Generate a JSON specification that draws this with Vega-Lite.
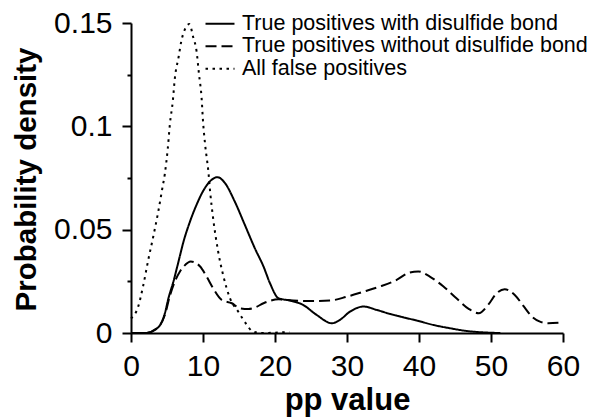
{
  "$schema": "https://vega.github.io/schema/vega-lite/v6.json",
  "width": 432,
  "height": 310,
  "autosize": {"type": "none"},
  "padding": {"left": 131, "top": 23, "right": 37, "bottom": 86},
  "background": "white",
  "config": {
    "view": {"stroke": null},
    "font": "Liberation Sans",
    "legend": {"rowPadding": -0.5},
    "axis": {
      "grid": false,
      "domainColor": "black",
      "domainWidth": 2,
      "tickColor": "black",
      "tickWidth": 2,
      "labelFont": "Liberation Sans",
      "labelFontSize": 30,
      "labelColor": "black",
      "titleFont": "Liberation Sans",
      "titleFontSize": 31,
      "titleFontWeight": "bold",
      "titleColor": "black"
    }
  },
  "datasets": {
    "curves": [
      {"series": "True positives with disulfide bond", "x": 0, "y": 0},
      {"series": "True positives with disulfide bond", "x": 2, "y": 0},
      {"series": "True positives with disulfide bond", "x": 3.3, "y": 0.0015},
      {"series": "True positives with disulfide bond", "x": 4.3, "y": 0.0055},
      {"series": "True positives with disulfide bond", "x": 4.7, "y": 0.0095},
      {"series": "True positives with disulfide bond", "x": 5.2, "y": 0.0168},
      {"series": "True positives with disulfide bond", "x": 5.9, "y": 0.025},
      {"series": "True positives with disulfide bond", "x": 6.6, "y": 0.0346},
      {"series": "True positives with disulfide bond", "x": 7.3, "y": 0.0443},
      {"series": "True positives with disulfide bond", "x": 8.2, "y": 0.054},
      {"series": "True positives with disulfide bond", "x": 9.1, "y": 0.062},
      {"series": "True positives with disulfide bond", "x": 10.0, "y": 0.0686},
      {"series": "True positives with disulfide bond", "x": 11.0, "y": 0.0735},
      {"series": "True positives with disulfide bond", "x": 12.0, "y": 0.0754},
      {"series": "True positives with disulfide bond", "x": 13.0, "y": 0.0728},
      {"series": "True positives with disulfide bond", "x": 14.4, "y": 0.0637},
      {"series": "True positives with disulfide bond", "x": 15.8, "y": 0.0524},
      {"series": "True positives with disulfide bond", "x": 17.2, "y": 0.041},
      {"series": "True positives with disulfide bond", "x": 18.4, "y": 0.0322},
      {"series": "True positives with disulfide bond", "x": 19.3, "y": 0.0241},
      {"series": "True positives with disulfide bond", "x": 20.5, "y": 0.0168},
      {"series": "True positives with disulfide bond", "x": 22.1, "y": 0.0157},
      {"series": "True positives with disulfide bond", "x": 23.9, "y": 0.0136},
      {"series": "True positives with disulfide bond", "x": 25.8, "y": 0.0087},
      {"series": "True positives with disulfide bond", "x": 27.9, "y": 0.0047},
      {"series": "True positives with disulfide bond", "x": 29.0, "y": 0.0063},
      {"series": "True positives with disulfide bond", "x": 30.4, "y": 0.0103},
      {"series": "True positives with disulfide bond", "x": 32.3, "y": 0.0128},
      {"series": "True positives with disulfide bond", "x": 34.1, "y": 0.0112},
      {"series": "True positives with disulfide bond", "x": 36.0, "y": 0.0092},
      {"series": "True positives with disulfide bond", "x": 37.8, "y": 0.0076},
      {"series": "True positives with disulfide bond", "x": 39.7, "y": 0.006},
      {"series": "True positives with disulfide bond", "x": 42.0, "y": 0.0039},
      {"series": "True positives with disulfide bond", "x": 44.3, "y": 0.0023},
      {"series": "True positives with disulfide bond", "x": 46.6, "y": 0.001},
      {"series": "True positives with disulfide bond", "x": 48.9, "y": 0.0003},
      {"series": "True positives with disulfide bond", "x": 51.3, "y": 0},

      {"series": "True positives without disulfide bond", "x": 0, "y": 0},
      {"series": "True positives without disulfide bond", "x": 2, "y": 0},
      {"series": "True positives without disulfide bond", "x": 3.5, "y": 0.002},
      {"series": "True positives without disulfide bond", "x": 4.7, "y": 0.0087},
      {"series": "True positives without disulfide bond", "x": 5.4, "y": 0.018},
      {"series": "True positives without disulfide bond", "x": 6.1, "y": 0.025},
      {"series": "True positives without disulfide bond", "x": 6.8, "y": 0.0298},
      {"series": "True positives without disulfide bond", "x": 7.4, "y": 0.0325},
      {"series": "True positives without disulfide bond", "x": 8.3, "y": 0.0346},
      {"series": "True positives without disulfide bond", "x": 9.6, "y": 0.0322},
      {"series": "True positives without disulfide bond", "x": 10.5, "y": 0.0273},
      {"series": "True positives without disulfide bond", "x": 11.4, "y": 0.0217},
      {"series": "True positives without disulfide bond", "x": 12.6, "y": 0.016},
      {"series": "True positives without disulfide bond", "x": 14.0, "y": 0.0144},
      {"series": "True positives without disulfide bond", "x": 15.1, "y": 0.012},
      {"series": "True positives without disulfide bond", "x": 16.3, "y": 0.0116},
      {"series": "True positives without disulfide bond", "x": 17.2, "y": 0.0123},
      {"series": "True positives without disulfide bond", "x": 18.4, "y": 0.0144},
      {"series": "True positives without disulfide bond", "x": 20.5, "y": 0.0163},
      {"series": "True positives without disulfide bond", "x": 22.5, "y": 0.0157},
      {"series": "True positives without disulfide bond", "x": 24.9, "y": 0.0155},
      {"series": "True positives without disulfide bond", "x": 27.6, "y": 0.0157},
      {"series": "True positives without disulfide bond", "x": 30.0, "y": 0.0176},
      {"series": "True positives without disulfide bond", "x": 32.3, "y": 0.02},
      {"series": "True positives without disulfide bond", "x": 34.6, "y": 0.0225},
      {"series": "True positives without disulfide bond", "x": 36.9, "y": 0.0257},
      {"series": "True positives without disulfide bond", "x": 38.5, "y": 0.029},
      {"series": "True positives without disulfide bond", "x": 39.9, "y": 0.0298},
      {"series": "True positives without disulfide bond", "x": 41.5, "y": 0.0273},
      {"series": "True positives without disulfide bond", "x": 43.4, "y": 0.0225},
      {"series": "True positives without disulfide bond", "x": 45.2, "y": 0.0168},
      {"series": "True positives without disulfide bond", "x": 46.9, "y": 0.0117},
      {"series": "True positives without disulfide bond", "x": 48.3, "y": 0.0096},
      {"series": "True positives without disulfide bond", "x": 49.6, "y": 0.0136},
      {"series": "True positives without disulfide bond", "x": 50.8, "y": 0.0193},
      {"series": "True positives without disulfide bond", "x": 51.9, "y": 0.0212},
      {"series": "True positives without disulfide bond", "x": 53.3, "y": 0.0184},
      {"series": "True positives without disulfide bond", "x": 54.5, "y": 0.0131},
      {"series": "True positives without disulfide bond", "x": 55.7, "y": 0.0079},
      {"series": "True positives without disulfide bond", "x": 56.8, "y": 0.0055},
      {"series": "True positives without disulfide bond", "x": 57.95, "y": 0.0047},
      {"series": "True positives without disulfide bond", "x": 59.6, "y": 0.005},

      {"series": "All false positives", "x": 0, "y": 0.007},
      {"series": "All false positives", "x": 1.0, "y": 0.0128},
      {"series": "All false positives", "x": 1.7, "y": 0.023},
      {"series": "All false positives", "x": 2.4, "y": 0.0354},
      {"series": "All false positives", "x": 3.1, "y": 0.0468},
      {"series": "All false positives", "x": 3.8, "y": 0.059},
      {"series": "All false positives", "x": 4.35, "y": 0.07},
      {"series": "All false positives", "x": 4.7, "y": 0.077},
      {"series": "All false positives", "x": 5.1, "y": 0.089},
      {"series": "All false positives", "x": 5.4, "y": 0.101},
      {"series": "All false positives", "x": 5.8, "y": 0.112},
      {"series": "All false positives", "x": 6.1, "y": 0.1236},
      {"series": "All false positives", "x": 6.6, "y": 0.1333},
      {"series": "All false positives", "x": 7.0, "y": 0.1414},
      {"series": "All false positives", "x": 7.5, "y": 0.147},
      {"series": "All false positives", "x": 8.1, "y": 0.1495},
      {"series": "All false positives", "x": 8.65, "y": 0.143},
      {"series": "All false positives", "x": 9.1, "y": 0.1365},
      {"series": "All false positives", "x": 9.45, "y": 0.125},
      {"series": "All false positives", "x": 9.8, "y": 0.114},
      {"series": "All false positives", "x": 10.0, "y": 0.1026},
      {"series": "All false positives", "x": 10.3, "y": 0.091},
      {"series": "All false positives", "x": 10.75, "y": 0.078},
      {"series": "All false positives", "x": 11.0, "y": 0.068},
      {"series": "All false positives", "x": 11.4, "y": 0.0557},
      {"series": "All false positives", "x": 12.1, "y": 0.0395},
      {"series": "All false positives", "x": 12.8, "y": 0.028},
      {"series": "All false positives", "x": 13.75, "y": 0.0168},
      {"series": "All false positives", "x": 14.9, "y": 0.0103},
      {"series": "All false positives", "x": 16.1, "y": 0.0039},
      {"series": "All false positives", "x": 16.8, "y": 0.001},
      {"series": "All false positives", "x": 18.0, "y": 0},
      {"series": "All false positives", "x": 22.0, "y": 0.0005}
    ]
  },
  "data": {"name": "curves"},
  "mark": {"type": "line", "interpolate": "monotone", "strokeWidth": 2, "color": "black"},
  "encoding": {
    "x": {
      "field": "x",
      "type": "quantitative",
      "scale": {"domain": [0, 60], "nice": false, "zero": false},
      "axis": {
        "title": "pp value",
        "values": [0, 10, 20, 30, 40, 50, 60],
        "format": "d",
        "tickSize": 9,
        "labelPadding": 9,
        "labelFlush": false,
        "titleY": 76,
        "titleBaseline": "alphabetic"
      }
    },
    "y": {
      "field": "y",
      "type": "quantitative",
      "scale": {"domain": [0, 0.15], "nice": false},
      "axis": {
        "title": "Probability density",
        "titleFontSize": 29.5,
        "values": [0, 0.025, 0.05, 0.075, 0.1, 0.125, 0.15],
        "labelExpr": "round(datum.value*1000) % 50 == 0 ? format(datum.value, '~g') : ''",
        "tickSize": {"condition": {"test": "round(datum.value*1000) % 50 != 0", "value": 4}, "value": 9},
        "labelPadding": 10,
        "titleX": -96,
        "titleY": 156,
        "titleAngle": -90,
        "titleAlign": "center",
        "titleBaseline": "alphabetic"
      }
    },
    "strokeDash": {
      "field": "series",
      "type": "nominal",
      "scale": {
        "domain": ["True positives with disulfide bond", "True positives without disulfide bond", "All false positives"],
        "range": [[1, 0], [11, 5], [2.5, 4.5]]
      },
      "legend": {
        "title": null,
        "orient": "none",
        "legendX": 78.25,
        "legendY": -10,
        "padding": 0,
        "rowPadding": -0.5,
        "symbolType": "M-2,0L2,0",
        "symbolSize": 210,
        "symbolStrokeWidth": 2,
        "symbolStrokeColor": "black",
        "labelFont": "Liberation Sans",
        "labelFontSize": 21.5,
        "labelColor": "black",
        "labelOffset": 11.25,
        "labelLimit": 0
      }
    }
  }
}
